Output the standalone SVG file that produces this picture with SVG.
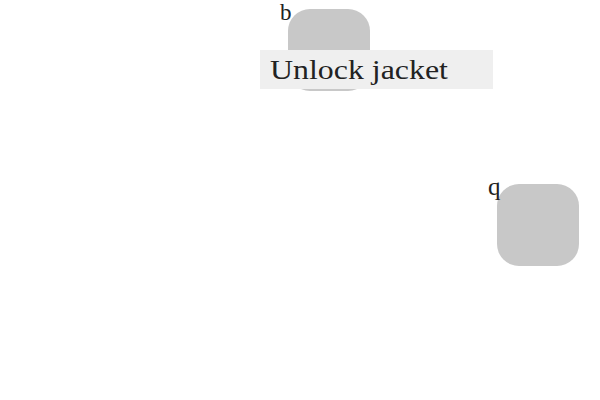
<svg xmlns="http://www.w3.org/2000/svg" width="600" height="400" viewBox="0 0 600 400">
<style>
.node{fill:#c8c8c8;}
.lbl{font-family:"Liberation Serif","DejaVu Serif",serif;fill:#222;}
</style>
<rect width="600" height="400" fill="#fff"/>
<g id="connectors"></g>
<g id="b">
<rect class="node" x="288" y="9" width="82" height="82" rx="22"/>
<text class="lbl" x="280" y="20" font-size="23">b</text>
</g>
<g id="label">
<rect x="260" y="50" width="233" height="39" fill="#efefef"/>
<text class="lbl" x="270" y="79" font-size="27" textLength="178" lengthAdjust="spacingAndGlyphs">Unlock jacket</text>
</g>
<g id="q">
<rect class="node" x="497" y="184" width="82" height="82" rx="22"/>
<text class="lbl" x="488" y="195" font-size="25">q</text>
</g>
</svg>
